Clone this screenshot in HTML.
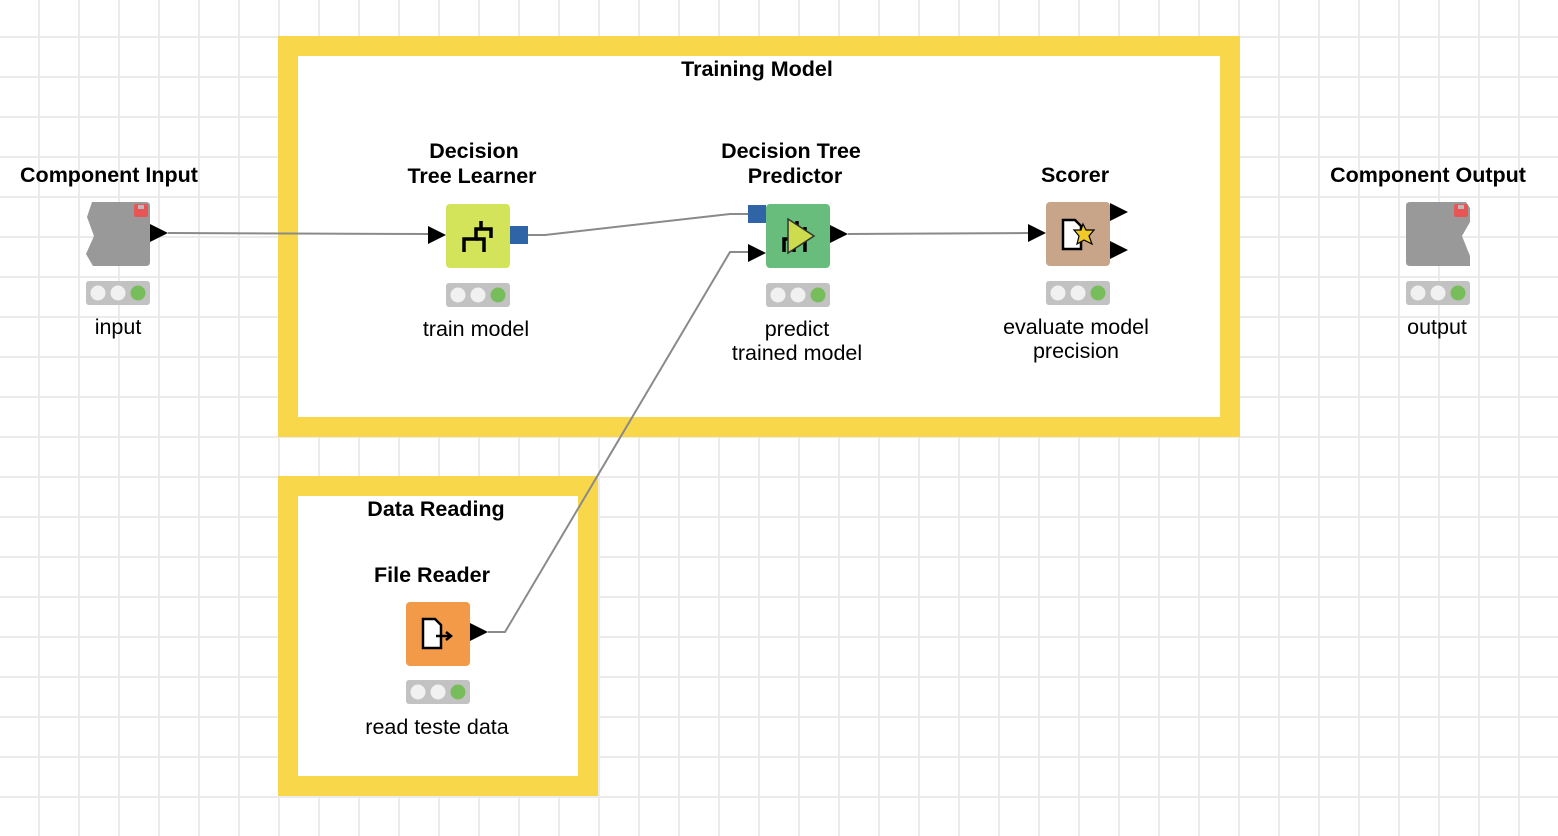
<!DOCTYPE html>
<html><head><meta charset="utf-8"><style>
html,body{margin:0;padding:0;background:#fff;}
svg{display:block;font-family:"Liberation Sans",Arial,sans-serif;}
.b{font-weight:bold;font-size:21.5px;fill:#000;}
.n{font-size:21.5px;fill:#000;}
</style></head><body>
<svg width="1558" height="836" viewBox="0 0 1558 836" xmlns="http://www.w3.org/2000/svg">
<defs>
<pattern id="g" x="38" y="36" width="40" height="40" patternUnits="userSpaceOnUse">
<rect x="0" y="0" width="2" height="40" fill="#ebebeb"/>
<rect x="0" y="0" width="40" height="2" fill="#ebebeb"/>
</pattern>
<g id="tl">
<rect x="0" y="0" width="64" height="24" rx="3" fill="#c2c2c2"/>
<circle cx="12" cy="12" r="7.5" fill="#f1f1f1"/>
<circle cx="32" cy="12" r="7.5" fill="#f1f1f1"/>
<circle cx="52" cy="12" r="7.5" fill="#78bd5b"/>
</g>
</defs>
<rect width="1558" height="836" fill="#fff"/>
<rect width="1558" height="836" fill="url(#g)"/>

<rect x="288" y="46" width="942" height="381" fill="#fff" stroke="#f8d84a" stroke-width="20"/>
<rect x="288" y="486" width="300" height="300" fill="#fff" stroke="#f8d84a" stroke-width="20"/>
<text class="b" x="757" y="76" text-anchor="middle">Training Model</text>
<text class="b" x="436" y="516" text-anchor="middle">Data Reading</text>

<g fill="none" stroke="#8a8a8a" stroke-width="2">
<polyline points="168,233 430,234"/>
<polyline points="528,235 545,235 730,214 750,214"/>
<polyline points="488,632 505,632 730,252 750,252"/>
<polyline points="848,234 1030,233"/>
</g>

<text class="b" x="109" y="182" text-anchor="middle">Component Input</text>
<path d="M92,202 H146 Q150,202 150,206 V262 Q150,266 146,266 H93 L86,254 L94,236 L87,217 Z" fill="#999"/>
<rect x="134" y="204" width="14" height="13" rx="2" fill="#e85555"/>
<rect x="138" y="205" width="6" height="4" fill="#bbb"/>
<polygon points="150,224 168,233 150,242" fill="#000"/>
<use href="#tl" x="86" y="281"/>
<text class="n" x="118" y="334" text-anchor="middle">input</text>

<text class="b" x="474" y="158" text-anchor="middle">Decision</text>
<text class="b" x="472" y="183" text-anchor="middle">Tree Learner</text>
<rect x="446" y="204" width="64" height="64" rx="4" fill="#d3e45a"/>
<g fill="none" stroke="#000" stroke-width="3.5">
<polyline points="464,252 464,239 476,239 476,229 491,229 491,238"/>
<polyline points="476,239 484,239 484,252"/>
<line x1="481" y1="221" x2="481" y2="229"/>
</g>
<polygon points="428,226 446,235 428,244" fill="#000"/>
<rect x="510" y="226" width="18" height="18" fill="#2f65a7"/>
<use href="#tl" x="446" y="283"/>
<text class="n" x="476" y="336" text-anchor="middle">train model</text>

<text class="b" x="791" y="158" text-anchor="middle">Decision Tree</text>
<text class="b" x="795" y="183" text-anchor="middle">Predictor</text>
<rect x="766" y="204" width="64" height="64" rx="4" fill="#68bd7c"/>
<g fill="none" stroke="#000" stroke-width="3.5">
<polyline points="784,252 784,239 794,239 794,252"/>
<line x1="805" y1="227" x2="805" y2="252"/>
<line x1="797" y1="221" x2="797" y2="240"/>
</g>
<polygon points="788,219 814,236 788,253" fill="#cddc4c" stroke="#333" stroke-width="1.5"/>
<rect x="748" y="205" width="18" height="18" fill="#2f65a7"/>
<polygon points="748,244 766,253 748,262" fill="#000"/>
<polygon points="830,225 848,234 830,243" fill="#000"/>
<use href="#tl" x="766" y="283"/>
<text class="n" x="797" y="336" text-anchor="middle">predict</text>
<text class="n" x="797" y="360" text-anchor="middle">trained model</text>

<text class="b" x="1075" y="182" text-anchor="middle">Scorer</text>
<rect x="1046" y="202" width="64" height="64" rx="4" fill="#c8a488"/>
<path d="M1063,220 H1075 L1081,226 V249 H1063 Z" fill="#fff" stroke="#000" stroke-width="2.5"/>
<polygon points="1083,224 1086,230 1094,230 1089,236 1092,244 1084,240 1077,244 1079,236 1074,230 1081,230" fill="#f1c928" stroke="#000" stroke-width="1.2"/>
<polygon points="1028,224 1046,233 1028,242" fill="#000"/>
<polygon points="1110,203 1128,212 1110,221" fill="#000"/>
<polygon points="1110,241 1128,250 1110,259" fill="#000"/>
<use href="#tl" x="1046" y="281"/>
<text class="n" x="1076" y="334" text-anchor="middle">evaluate model</text>
<text class="n" x="1076" y="358" text-anchor="middle">precision</text>

<text class="b" x="1428" y="182" text-anchor="middle">Component Output</text>
<path d="M1410,202 H1466 L1470,208 V222 L1462,236 L1470,256 V266 H1410 Q1406,266 1406,262 V206 Q1406,202 1410,202 Z" fill="#999"/>
<rect x="1454" y="204" width="14" height="13" rx="2" fill="#e85555"/>
<rect x="1458" y="205" width="6" height="4" fill="#bbb"/>
<use href="#tl" x="1406" y="281"/>
<text class="n" x="1437" y="334" text-anchor="middle">output</text>

<text class="b" x="432" y="582" text-anchor="middle">File Reader</text>
<rect x="406" y="602" width="64" height="64" rx="4" fill="#f39a48"/>
<path d="M423,619 H435 L441,625 V648 H423 Z" fill="#fff" stroke="#000" stroke-width="2.5"/>
<line x1="436" y1="636" x2="450" y2="636" stroke="#000" stroke-width="2.5"/>
<polyline points="446,632 451,636 446,640" fill="none" stroke="#000" stroke-width="2.5"/>
<polygon points="470,623 488,632 470,641" fill="#000"/>
<use href="#tl" x="406" y="680"/>
<text class="n" x="437" y="734" text-anchor="middle">read teste data</text>
</svg>
</body></html>
